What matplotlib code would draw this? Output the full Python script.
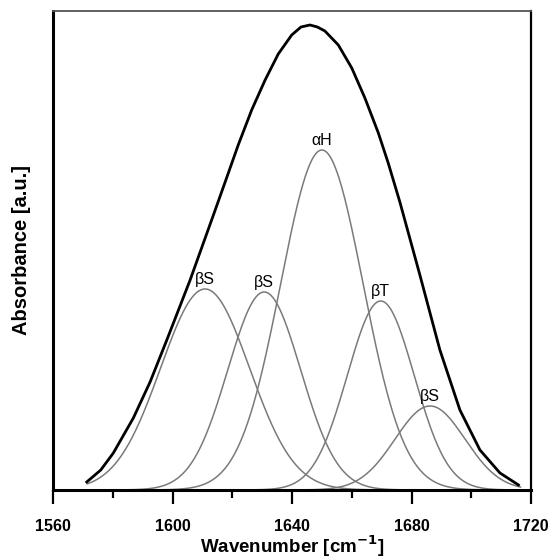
import numpy as np
import matplotlib
matplotlib.use('Agg')
import matplotlib.pyplot as plt
from matplotlib.ticker import MultipleLocator

plt.rcParams['font.family'] = ['Liberation Sans', 'DejaVu Sans']

# fitted bands (centre [cm-1], height [a.u.], sigma [cm-1])
band_labels = ['\u03b2S', '\u03b2S', '\u03b1H', '\u03b2T', '\u03b2S']
centres = [1610.9, 1630.7, 1650.0, 1669.7, 1686.2]
heights = [201, 198, 340, 189, 84]
sigmas = [14.9, 12.2, 13.8, 11.2, 11.7]

spec_wn = [1571.3, 1576.0, 1580.2, 1586.9, 1592.5, 1598.1, 1605.9, 1613.7, 1618.1,
           1622.0, 1626.5, 1631.0, 1635.4, 1639.9, 1643.0, 1646.0, 1648.5, 1651.0,
           1655.5, 1660.0, 1664.4, 1668.9, 1672.2, 1676.1, 1682.8, 1689.5, 1696.2,
           1702.9, 1709.6, 1715.8]
spec_abs = [8, 20, 37, 72, 108, 150, 210, 275, 312,
            345, 380, 410, 436, 455, 463, 465, 463, 459,
            445, 422, 392, 357, 327, 288, 215, 140, 80,
            40, 17, 5]

wn = np.linspace(1571.5, 1716.5, 600)
bands = [h * np.exp(-(wn - c) ** 2 / (2 * s ** 2)) for c, h, s in zip(centres, heights, sigmas)]

fig = plt.figure(figsize=(5.52, 5.58), dpi=100)
ax = fig.add_axes([0.096, 0.1219, 0.866, 0.8584])

for b in bands:
    ax.plot(wn, b, color='#7a7a7a', lw=1.1)
ax.plot(spec_wn, spec_abs, color='black', lw=2.0, solid_joinstyle='round')

for lab, c, h in zip(band_labels, centres, heights):
    ax.annotate(lab, (c, h), xytext=(0, 1.5), textcoords='offset points',
                ha='center', va='bottom', fontsize=11.5, color='black')

ax.set_xlim(1560, 1720)
ax.set_ylim(0, 479)
ax.xaxis.set_major_locator(MultipleLocator(40))
ax.xaxis.set_minor_locator(MultipleLocator(20))
ax.set_yticks([])
ax.tick_params(axis='x', which='major', direction='out', length=10, width=1.6,
               labelsize=11.5, pad=11)
ax.tick_params(axis='x', which='minor', direction='out', length=5.5, width=1.6)
for lbl in ax.get_xticklabels():
    lbl.set_fontweight('bold')

ax.spines['left'].set_linewidth(2.2)
ax.spines['bottom'].set_linewidth(2.2)
ax.spines['right'].set_linewidth(1.6)
ax.spines['top'].set_linewidth(1.3)
ax.spines['top'].set_color('#555555')

ax.set_xlabel('Wavenumber [cm$^{\\mathbf{-1}}$]', fontsize=13.5, fontweight='bold')
ax.xaxis.set_label_coords(0.5, -0.117)
ax.xaxis.label.set_va('center')
ax.set_ylabel('Absorbance [a.u.]', fontsize=14.5, fontweight='bold', labelpad=16)

plt.savefig('out.png', dpi=100)
